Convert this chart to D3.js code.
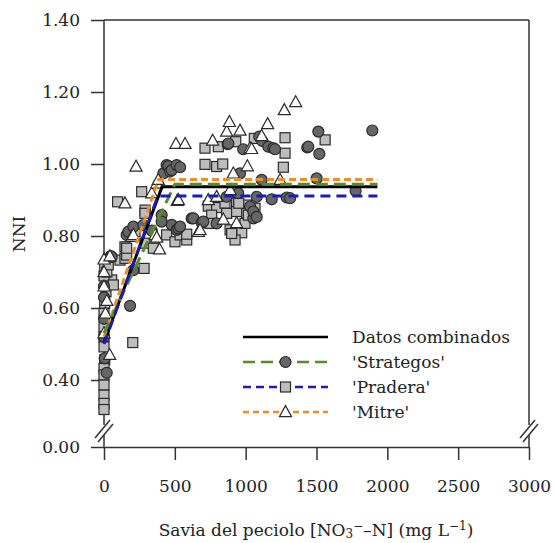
<!DOCTYPE html>
<html>
<head>
<meta charset="utf-8">
<script src="https://cdn.jsdelivr.net/npm/d3@7"></script>
<style>
body { margin: 0; background: #fff; }
text { font-family: "DejaVu Serif", serif; fill: #222; }
</style>
</head>
<body>
<script>
var width = 555, height = 543;

// data: [petiole sap NO3-N (mg/L), NNI]
var strategos = [
    [0, 0.63], [0, 0.66], [0, 0.57], [0, 0.52], [5, 0.46], [19, 0.42], [47, 0.744], [54, 0.742],
    [160, 0.803], [172, 0.812], [184, 0.606], [207, 0.826], [207, 0.705], [277, 0.83], [337, 0.815],
    [407, 0.858], [407, 0.84], [419, 0.974], [442, 0.997], [454, 0.994], [466, 0.979], [478, 0.983],
    [478, 0.831], [513, 0.997], [513, 0.817], [525, 0.821], [537, 0.991], [537, 0.826], [619, 0.849],
    [631, 0.849], [690, 0.837], [701, 0.84], [795, 0.835], [866, 0.909], [873, 1.055], [878, 1.057],
    [947, 0.919], [960, 0.974], [983, 1.041], [1031, 0.882], [1054, 0.849], [1054, 0.868], [1078, 0.853],
    [1078, 0.909], [1096, 1.076], [1113, 0.956], [1117, 1.064], [1160, 1.048], [1184, 0.902],
    [1195, 1.044], [1207, 1.041], [1290, 0.907], [1313, 0.905], [1435, 1.046], [1442, 1.048],
    [1501, 0.96], [1513, 1.09], [1520, 1.028], [1776, 0.925], [1894, 1.093]
];
var pradera = [
    [5, 0.71], [54, 0.678], [0, 0.689], [14, 0.645], [5, 0.613], [66, 0.664], [0, 0.585], [0, 0.548],
    [0, 0.52], [0, 0.492], [5, 0.456], [0, 0.432], [0, 0.414], [0, 0.386], [0, 0.358], [0, 0.335],
    [0, 0.318], [20, 0.70], [30, 0.72], [96, 0.895], [113, 0.733], [148, 0.738], [148, 0.77],
    [160, 0.747], [160, 0.766], [203, 0.504], [219, 0.812], [266, 0.923], [283, 0.71], [289, 0.78],
    [290, 0.872], [289, 0.863], [348, 0.766], [442, 0.803], [501, 0.784], [537, 0.803], [584, 0.789],
    [584, 0.805], [713, 1.044], [807, 1.048], [930, 1.062], [1061, 1.071], [1278, 1.073], [713, 0.999],
    [795, 0.993], [838, 1.0], [1278, 1.03], [1266, 0.991], [1561, 1.067], [736, 0.883], [795, 0.879],
    [854, 0.891], [936, 0.892], [1007, 0.886], [1066, 0.877], [760, 0.858], [866, 0.863], [936, 0.868],
    [1007, 0.863], [748, 0.835], [890, 0.817], [972, 0.809], [925, 0.789], [995, 0.835], [951, 0.891],
    [1019, 0.858], [901, 0.807]
];
var mitre = [
    [0, 0.735], [0, 0.70], [0, 0.66], [10, 0.585], [20, 0.62], [40, 0.47], [0, 0.53], [42, 0.744],
    [148, 0.891], [195, 0.798], [207, 0.803], [226, 0.993], [337, 0.919], [361, 0.803], [372, 0.796],
    [372, 0.946], [383, 0.956], [392, 0.763], [508, 1.056], [517, 0.898], [525, 0.90], [572, 1.056],
    [667, 0.812], [678, 0.817], [736, 0.90], [767, 1.065], [795, 0.909], [842, 0.846], [866, 1.09],
    [885, 1.117], [890, 0.928], [913, 0.974], [936, 0.836], [960, 1.093], [1012, 0.994], [1031, 1.044],
    [1042, 1.042], [1113, 1.078], [1155, 1.111], [1243, 0.956], [1273, 1.15], [1353, 1.172]
];

// fitted linear-plateau models
var fitCombined = [[0, 0.505], [410, 0.937], [1930, 0.937]];
var fitStrategos = [[0, 0.53], [500, 0.944], [1930, 0.944]];
var fitPradera = [[0, 0.50], [380, 0.911], [1930, 0.911]];
var fitMitre = [[0, 0.52], [385, 0.957], [1930, 0.957]];

var xTicks = [0, 500, 1000, 1500, 2000, 2500, 3000];
var yTicks = [0, 0.4, 0.6, 0.8, 1.0, 1.2, 1.4];
var legendLabels = ["Datos combinados", "'Strategos'", "'Pradera'", "'Mitre'"];

var svg = d3.select("body")
    .append("svg")
    .attr("width", width)
    .attr("height", height);

var xscale = d3.scaleLinear().domain([0, 3000]).range([104, 529]);
// broken axis: 0 - 0.3 squeezed
var yscale = d3.scaleLinear().domain([0, 0.3, 1.4]).range([447, 416, 20]);

var axisColor = "#333";

// x axis
var xAxis = d3.axisBottom(xscale)
    .tickValues(xTicks)
    .tickSize(13)
    .tickSizeOuter(0)
    .tickPadding(20)
    .tickFormat(d3.format("d"));
var gx = svg.append("g")
    .attr("transform", "translate(0,447)")
    .call(xAxis);
gx.select(".domain").attr("stroke", axisColor).attr("stroke-width", 1.5);
gx.selectAll(".tick line").attr("stroke", axisColor).attr("stroke-width", 1.5);
gx.selectAll(".tick text").style("font-size", "17px").attr("fill", "#222");

// y axis
var yAxis = d3.axisLeft(yscale)
    .tickValues(yTicks)
    .tickSize(13)
    .tickPadding(11)
    .tickFormat(d3.format(".2f"));
var gy = svg.append("g")
    .attr("transform", "translate(104,0)")
    .call(yAxis);
gy.select(".domain").remove();
gy.selectAll(".tick line").attr("stroke", axisColor).attr("stroke-width", 1.5);
gy.selectAll(".tick text").style("font-size", "17px").attr("fill", "#222");

// frame with breaks
var frame = svg.append("g").attr("stroke", axisColor).attr("stroke-width", 1.5).attr("fill", "none");
var breakTop = 425, breakBot = 435;
[104, 529].forEach(function (xp) {
    frame.append("line").attr("x1", xp).attr("x2", xp).attr("y1", 20).attr("y2", breakTop);
    frame.append("line").attr("x1", xp).attr("x2", xp).attr("y1", breakBot).attr("y2", 447);
    frame.append("line").attr("x1", xp - 9).attr("y1", 438).attr("x2", xp + 6).attr("y2", 420);
    frame.append("line").attr("x1", xp - 6).attr("y1", 442).attr("x2", xp + 9).attr("y2", 424);
});
frame.append("line").attr("x1", 104).attr("x2", 529).attr("y1", 20).attr("y2", 20);

// markers
function triPath(s) {
    return "M0," + (-s * 0.58) + "L" + (s * 0.55) + "," + (s * 0.42) + "L" + (-s * 0.55) + "," + (s * 0.42) + "Z";
}

svg.append("g").selectAll("rect")
    .data(pradera)
    .enter().append("rect")
    .attr("x", function (d) { return xscale(d[0]) - 5; })
    .attr("y", function (d) { return yscale(d[1]) - 5; })
    .attr("width", 10).attr("height", 10)
    .attr("fill", "#bdbdbd").attr("stroke", "#2a2a2a").attr("stroke-width", 1.2);

svg.append("g").selectAll("circle")
    .data(strategos)
    .enter().append("circle")
    .attr("cx", function (d) { return xscale(d[0]); })
    .attr("cy", function (d) { return yscale(d[1]); })
    .attr("r", 5.5)
    .attr("fill", "#666").attr("stroke", "#2a2a2a").attr("stroke-width", 1.2);

svg.append("g").selectAll("path")
    .data(mitre)
    .enter().append("path")
    .attr("transform", function (d) { return "translate(" + xscale(d[0]) + "," + yscale(d[1]) + ")"; })
    .attr("d", triPath(11))
    .attr("fill", "#fff").attr("stroke", "#2a2a2a").attr("stroke-width", 1.2);

// fit lines
var line = d3.line()
    .x(function (d) { return xscale(d[0]); })
    .y(function (d) { return yscale(d[1]); });

var fits = [
    { data: fitCombined, color: "#000", dash: null },
    { data: fitMitre, color: "#e8902a", dash: "7,4" },
    { data: fitStrategos, color: "#5a8a2a", dash: "12,6" },
    { data: fitPradera, color: "#1a1ac0", dash: "10,6" }
];
fits.forEach(function (f) {
    svg.append("path")
        .attr("d", line(f.data))
        .attr("fill", "none")
        .attr("stroke", f.color)
        .attr("stroke-width", 3)
        .attr("stroke-dasharray", f.dash);
});

// legend
var legendY = [337, 362, 387, 412];
var legendStyle = [
    { color: "#000", dash: null, marker: null },
    { color: "#5a8a2a", dash: "12,6", marker: "circle" },
    { color: "#1a1ac0", dash: "8,5", marker: "square" },
    { color: "#e8902a", dash: "6,4", marker: "triangle" }
];
var legend = svg.selectAll(".legend")
    .data(legendLabels)
    .enter().append("g")
    .attr("class", "legend")
    .attr("transform", function (d, i) { return "translate(0," + legendY[i] + ")"; });

legend.append("line")
    .attr("x1", 243).attr("x2", 328)
    .attr("stroke", function (d, i) { return legendStyle[i].color; })
    .attr("stroke-width", 2.5)
    .attr("stroke-dasharray", function (d, i) { return legendStyle[i].dash; });

legend.each(function (d, i) {
    var g = d3.select(this);
    var m = legendStyle[i].marker;
    if (m == "circle") {
        g.append("circle").attr("cx", 285.5).attr("r", 5.5)
            .attr("fill", "#666").attr("stroke", "#2a2a2a").attr("stroke-width", 1.2);
    } else if (m == "square") {
        g.append("rect").attr("x", 280.5).attr("y", -5).attr("width", 10).attr("height", 10)
            .attr("fill", "#bdbdbd").attr("stroke", "#2a2a2a").attr("stroke-width", 1.2);
    } else if (m == "triangle") {
        g.append("path").attr("transform", "translate(285.5,0)").attr("d", triPath(11))
            .attr("fill", "#fff").attr("stroke", "#2a2a2a").attr("stroke-width", 1.2);
    }
});

legend.append("text")
    .attr("x", 352)
    .attr("y", 6)
    .style("font-size", "17px")
    .text(function (d) { return d; });

// axis titles
svg.append("text")
    .attr("transform", "translate(25,234) rotate(-90)")
    .attr("text-anchor", "middle")
    .style("font-size", "17px")
    .text("NNI");

var xl = svg.append("text")
    .attr("x", 316)
    .attr("y", 536)
    .attr("text-anchor", "middle")
    .style("font-size", "17px");
xl.append("tspan").text("Savia del peciolo [NO");
xl.append("tspan").attr("dy", 2).style("font-size", "12px").text("3");
xl.append("tspan").attr("dy", -8).style("font-size", "12px").text("−");
xl.append("tspan").attr("dy", 6).text("–N] (mg L");
xl.append("tspan").attr("dy", -6).style("font-size", "12px").text("−1");
xl.append("tspan").attr("dy", 6).text(")");
</script>
</body>
</html>
